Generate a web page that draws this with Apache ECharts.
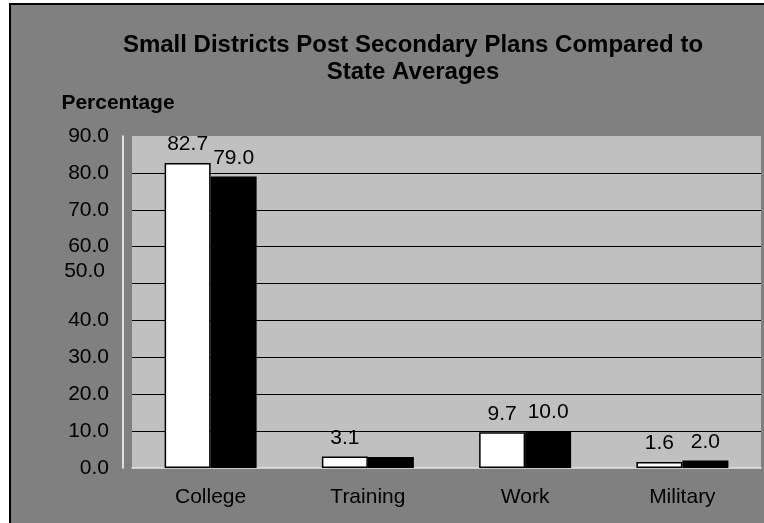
<!DOCTYPE html>
<html>
<head>
<meta charset="utf-8">
<script src="https://cdn.jsdelivr.net/npm/echarts@6/dist/echarts.min.js"></script>
<style>
  html, body { margin: 0; padding: 0; background: #fff; }
  #frame {
    position: absolute; left: 9px; top: 3px;
    width: 755px; height: 520px;
    border-left: 2px solid #000; border-top: 2px solid #000;
    background: #808080;
  }
  #chart { width: 755px; height: 520px; }
</style>
</head>
<body>
<div id="frame"><div id="chart"></div></div>
<script>
// Post-secondary plans: small districts vs. state averages (percent)
const categories = ['College', 'Training', 'Work', 'Military'];
const smallDistricts = [82.7, 3.1, 9.7, 1.6];
const stateAverages = [79.0, 3.0, 10.0, 2.0];
const yTicks = [0, 10, 20, 30, 40, 50, 60, 70, 80, 90];

const FONT = "'Liberation Sans', Arial, sans-serif";

const chart = echarts.init(document.getElementById('chart'));

// grid lines: none at the baseline and at the top edge
const splitColors = yTicks.map((v, i) => (i === 0 || i === yTicks.length - 1) ? 'rgba(0,0,0,0)' : '#000');

chart.setOption({
  backgroundColor: 'transparent',
  animation: false,
  title: {
    text: 'Small Districts Post Secondary Plans Compared to\nState Averages',
    left: 397,
    top: 22,
    textAlign: 'center',
    textStyle: {
      fontFamily: FONT, fontSize: 24, fontWeight: 'bold',
      color: '#000', lineHeight: 27
    }
  },
  grid: {
    left: 121, right: 5, top: 131, bottom: 57,
    show: true, backgroundColor: '#c0c0c0', borderWidth: 0
  },
  xAxis: {
    type: 'category',
    data: categories,
    axisTick: { show: false },
    axisLine: { show: true, lineStyle: { color: '#e4e4e4', width: 1.5 } },
    axisLabel: { margin: 19, color: '#000', fontFamily: FONT, fontSize: 21 }
  },
  yAxis: {
    type: 'value',
    min: 0, max: 90, interval: 10,
    offset: 9,
    name: 'Percentage',
    nameLocation: 'end',
    nameGap: 22,
    nameTextStyle: {
      fontFamily: FONT, fontSize: 21, fontWeight: 'bold', color: '#000',
      align: 'center', padding: [0, 10, 0, 0]
    },
    axisLine: { show: true, lineStyle: { color: '#fff', width: 1.5 } },
    axisTick: { show: false },
    splitLine: { show: true, lineStyle: { color: splitColors, width: 1.2 } },
    axisLabel: {
      margin: 14, color: '#000', fontFamily: FONT, fontSize: 21,
      formatter: v => v === 50 ? '{s|50.0}' : v.toFixed(1),
      rich: { s: { fontFamily: FONT, fontSize: 21, color: '#000', padding: [0, 4, 24, 0] } }
    }
  },
  series: [
    {
      name: 'Small Districts',
      type: 'bar',
      data: smallDistricts,
      barWidth: 46,
      barGap: '0%',
      itemStyle: { color: '#fff', borderColor: '#000', borderWidth: 1.5 },
      label: {
        show: true, position: 'top', distance: 8,
        color: '#000', fontFamily: FONT, fontSize: 21,
        formatter: p => p.value.toFixed(1)
      }
    },
    {
      name: 'State Averages',
      type: 'bar',
      data: stateAverages.map((v, i) => categories[i] === 'Training'
        ? { value: v, label: { show: false } } : v),
      barWidth: 46,
      itemStyle: { color: '#000' },
      label: {
        show: true, position: 'top', distance: 8,
        color: '#000', fontFamily: FONT, fontSize: 21,
        formatter: p => p.value.toFixed(1)
      }
    }
  ]
});
</script>
</body>
</html>
